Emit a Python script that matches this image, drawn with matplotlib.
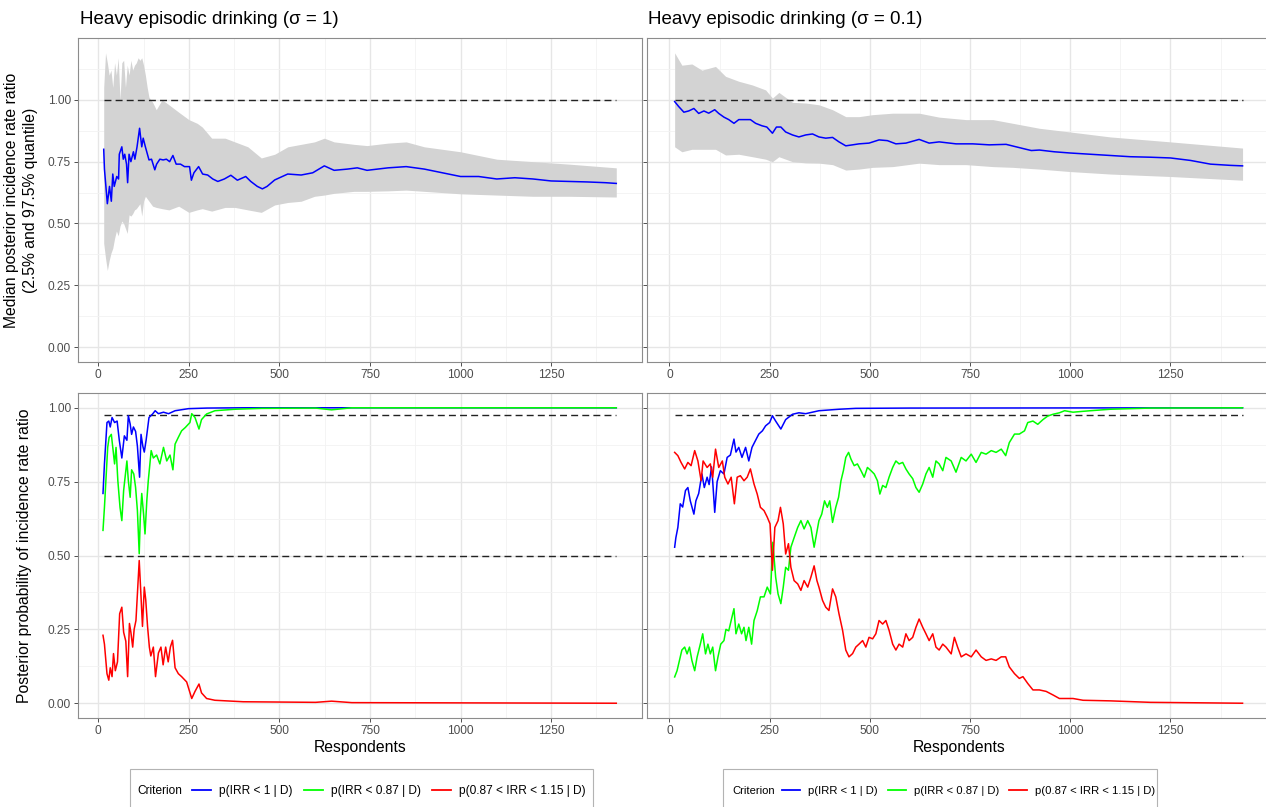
"""
Sequential Bayesian analysis of heavy episodic drinking, two prior widths.

Top row: median posterior incidence rate ratio with 2.5%-97.5% band.
Bottom row: posterior probability of the three decision criteria.
"""

import matplotlib.pyplot as plt
from matplotlib.lines import Line2D
from matplotlib.patches import Rectangle
from matplotlib.ticker import MultipleLocator

plt.rcParams["font.family"] = ["Liberation Sans", "DejaVu Sans"]

W, H = 1266, 807

TITLES = ["Heavy episodic drinking (\u03c3 = 1)", "Heavy episodic drinking (\u03c3 = 0.1)"]
X_TICKS = [0, 250, 500, 750, 1000, 1250]
Y_TICKS = [0.0, 0.25, 0.5, 0.75, 1.0]
CRITERIA = ["p(IRR < 1 | D)", "p(IRR < 0.87 | D)", "p(0.87 < IRR < 1.15 | D)"]
COLORS = ["#0000FF", "#00FF00", "#FF0000"]
REF_TOP = [1.0]
REF_BOTTOM = [0.975, 0.5]
N_FIRST, N_LAST = 15, 1430

# ---- sigma = 1, median IRR and band ----
s1_med_x = [15, 17, 25, 31, 36, 40, 44, 51, 56, 58, 65, 69, 73, 78, 81, 85, 90, 97, 101, 107,
            114, 120, 124, 130, 140, 147, 156, 161, 170, 179, 188, 197, 206, 215, 227, 238,
            252, 257, 264, 277, 288, 302, 316, 330, 348, 366, 384, 407, 421, 439, 453, 466,
            487, 523, 560, 592, 624, 651, 688, 715, 742, 800, 850, 900, 950, 1000, 1050,
            1100, 1150, 1200, 1250, 1300, 1350, 1400, 1430]
s1_med = [0.80, 0.72, 0.58, 0.65, 0.59, 0.70, 0.65, 0.69, 0.68, 0.78, 0.81, 0.76, 0.78, 0.74,
          0.665, 0.78, 0.75, 0.79, 0.76, 0.81, 0.885, 0.81, 0.845, 0.81, 0.757, 0.76, 0.717,
          0.74, 0.76, 0.757, 0.76, 0.75, 0.775, 0.74, 0.74, 0.73, 0.73, 0.675, 0.705, 0.73,
          0.70, 0.696, 0.68, 0.67, 0.68, 0.695, 0.675, 0.69, 0.67, 0.65, 0.64, 0.65, 0.676,
          0.70, 0.696, 0.705, 0.733, 0.715, 0.72, 0.725, 0.715, 0.725, 0.73, 0.72, 0.705,
          0.69, 0.69, 0.68, 0.685, 0.68, 0.672, 0.67, 0.668, 0.665, 0.662]
s1_band_x = [15, 20, 25, 30, 35, 40, 45, 50, 55, 60, 65, 70, 75, 80, 85, 90, 95, 100, 105, 110,
             115, 120, 125, 130, 135, 140, 150, 160, 176, 195, 222, 250, 273, 287, 313, 350,
             377, 413, 450, 487, 523, 560, 597, 624, 651, 706, 742, 800, 850, 900, 1000, 1100,
             1200, 1300, 1430]
s1_hi = [1.05, 1.19, 1.15, 1.10, 1.12, 1.05, 1.15, 1.10, 1.17, 1.00, 1.15, 1.16, 1.05, 1.14,
         1.10, 1.16, 1.12, 1.14, 1.15, 1.17, 1.16, 1.17, 1.14, 1.10, 1.05, 1.01, 0.99, 0.96,
         1.00, 0.98, 0.95, 0.92, 0.905, 0.89, 0.845, 0.845, 0.83, 0.81, 0.765, 0.78, 0.81,
         0.82, 0.83, 0.845, 0.83, 0.82, 0.815, 0.825, 0.83, 0.81, 0.79, 0.76, 0.75, 0.74, 0.725]
s1_lo = [0.42, 0.36, 0.31, 0.35, 0.38, 0.40, 0.44, 0.47, 0.45, 0.49, 0.51, 0.50, 0.48, 0.46,
         0.535, 0.53, 0.54, 0.555, 0.56, 0.57, 0.58, 0.53, 0.59, 0.61, 0.60, 0.59, 0.57, 0.565,
         0.56, 0.555, 0.57, 0.545, 0.555, 0.56, 0.55, 0.565, 0.565, 0.555, 0.545, 0.575, 0.585,
         0.59, 0.61, 0.615, 0.622, 0.63, 0.63, 0.632, 0.635, 0.63, 0.62, 0.615, 0.61, 0.61, 0.607]

# ---- sigma = 0.1, median IRR and band ----
s01_med_x = [13, 23, 36, 48, 61, 73, 86, 98, 113, 123, 136, 148, 161, 173, 190, 202, 215, 231,
             243, 257, 267, 278, 290, 307, 323, 340, 357, 373, 390, 407, 423, 440, 457, 473,
             498, 523, 544, 565, 590, 623, 648, 673, 715, 757, 798, 840, 865, 890, 903, 923,
             960, 1000, 1050, 1100, 1150, 1200, 1250, 1300, 1350, 1400, 1430]
s01_med = [0.993, 0.973, 0.95, 0.955, 0.965, 0.945, 0.955, 0.946, 0.96, 0.945, 0.93, 0.92,
           0.905, 0.92, 0.92, 0.92, 0.905, 0.895, 0.89, 0.865, 0.89, 0.89, 0.87, 0.858, 0.85,
           0.858, 0.862, 0.85, 0.845, 0.848, 0.83, 0.814, 0.818, 0.822, 0.825, 0.838, 0.835,
           0.822, 0.825, 0.84, 0.825, 0.83, 0.822, 0.822, 0.818, 0.82, 0.81, 0.80, 0.795,
           0.797, 0.79, 0.785, 0.78, 0.775, 0.77, 0.768, 0.765, 0.755, 0.74, 0.735, 0.733]
s01_band_x = [13, 31, 56, 81, 115, 140, 173, 207, 240, 257, 273, 307, 340, 373, 407, 440, 473,
              507, 557, 623, 673, 740, 807, 857, 923, 1000, 1100, 1250, 1430]
s01_hi = [1.19, 1.14, 1.145, 1.12, 1.135, 1.095, 1.075, 1.06, 1.04, 1.007, 1.03, 0.99, 0.987,
          0.98, 0.96, 0.932, 0.932, 0.94, 0.946, 0.946, 0.93, 0.92, 0.92, 0.905, 0.885, 0.87,
          0.85, 0.83, 0.805]
s01_lo = [0.81, 0.79, 0.80, 0.80, 0.80, 0.777, 0.78, 0.77, 0.76, 0.75, 0.77, 0.75, 0.745, 0.744,
          0.738, 0.716, 0.72, 0.727, 0.73, 0.744, 0.738, 0.738, 0.73, 0.727, 0.72, 0.71, 0.70,
          0.69, 0.675]

# ---- sigma = 1, posterior probabilities ----
s1_blue_x = [13, 17, 21, 24, 29, 33, 38, 45, 52, 58, 65, 72, 79, 83, 88, 92, 97, 103, 108, 114,
             118, 123, 127, 132, 140, 150, 157, 166, 180, 194, 212, 249, 300, 400, 1430]
s1_blue = [0.71, 0.81, 0.89, 0.95, 0.955, 0.935, 0.967, 0.95, 0.955, 0.89, 0.83, 0.905, 0.89,
           0.973, 0.945, 0.91, 0.935, 0.92, 0.87, 0.765, 0.91, 0.87, 0.85, 0.89, 0.967, 0.979,
           0.99, 0.98, 0.985, 0.98, 0.99, 0.997, 0.999, 1.0, 1.0]
s1_green_x = [13, 17, 22, 26, 30, 36, 40, 45, 49, 54, 60, 65, 70, 74, 79, 83, 88, 92, 98, 103,
              108, 113, 116, 120, 125, 129, 134, 138, 146, 152, 161, 170, 180, 189, 198, 206,
              212, 221, 230, 240, 253, 258, 267, 278, 285, 299, 322, 377, 450, 600, 644, 700,
              1430]
s1_green = [0.585, 0.663, 0.776, 0.866, 0.90, 0.91, 0.866, 0.81, 0.866, 0.753, 0.663, 0.618,
            0.72, 0.765, 0.82, 0.753, 0.697, 0.79, 0.776, 0.73, 0.652, 0.506, 0.63, 0.71, 0.64,
            0.573, 0.686, 0.753, 0.855, 0.83, 0.84, 0.81, 0.866, 0.82, 0.84, 0.79, 0.877, 0.90,
            0.922, 0.933, 0.95, 0.98, 0.967, 0.928, 0.96, 0.979, 0.99, 0.995, 0.998, 0.999,
            0.993, 1.0, 1.0]
s1_red_x = [13, 17, 24, 29, 33, 38, 42, 47, 53, 59, 65, 70, 76, 81, 86, 90, 95, 99, 104, 108,
            113, 118, 122, 127, 131, 136, 141, 145, 152, 158, 166, 173, 179, 186, 193, 199, 205,
            212, 221, 230, 244, 258, 267, 278, 285, 299, 322, 400, 600, 644, 700, 1430]
s1_red = [0.23, 0.20, 0.10, 0.078, 0.12, 0.09, 0.168, 0.11, 0.14, 0.303, 0.325, 0.24, 0.21,
          0.09, 0.27, 0.24, 0.19, 0.25, 0.28, 0.37, 0.483, 0.36, 0.26, 0.393, 0.35, 0.26, 0.19,
          0.16, 0.19, 0.09, 0.17, 0.19, 0.13, 0.19, 0.14, 0.19, 0.213, 0.12, 0.10, 0.09, 0.072,
          0.016, 0.04, 0.065, 0.035, 0.016, 0.01, 0.005, 0.003, 0.007, 0.002, 0.0]

# ---- sigma = 0.1, posterior probabilities ----
s01_blue_x = [13, 16, 21, 27, 33, 40, 46, 52, 61, 66, 73, 81, 87, 94, 99, 105, 108, 113, 119,
              127, 136, 144, 152, 161, 166, 173, 181, 190, 198, 206, 215, 223, 232, 240, 250,
              257, 265, 278, 290, 307, 323, 340, 373, 423, 465, 600, 1430]
s01_blue = [0.528, 0.56, 0.595, 0.675, 0.664, 0.72, 0.73, 0.685, 0.64, 0.685, 0.71, 0.776,
            0.73, 0.765, 0.74, 0.80, 0.75, 0.646, 0.75, 0.787, 0.776, 0.832, 0.84, 0.894, 0.85,
            0.866, 0.832, 0.866, 0.82, 0.866, 0.89, 0.911, 0.922, 0.939, 0.95, 0.973, 0.955,
            0.928, 0.96, 0.978, 0.983, 0.98, 0.99, 0.995, 0.998, 0.999, 1.0]
s01_green_x = [13, 19, 25, 31, 38, 44, 50, 56, 63, 69, 77, 83, 90, 96, 102, 108, 115, 121, 128,
               136, 141, 148, 154, 161, 166, 173, 180, 186, 191, 198, 205, 211, 219, 227, 236,
               244, 252, 258, 265, 271, 278, 284, 290, 297, 303, 311, 320, 328, 336, 345, 353,
               361, 367, 373, 380, 387, 394, 400, 407, 415, 422, 428, 434, 440, 447, 453, 461,
               469, 478, 486, 494, 503, 511, 519, 525, 532, 540, 548, 557, 565, 573, 582, 590,
               598, 607, 615, 623, 632, 640, 648, 657, 665, 673, 682, 690, 703, 715, 728, 740,
               753, 765, 778, 790, 803, 815, 828, 839, 848, 861, 873, 886, 894, 907, 919, 932,
               944, 957, 973, 986, 1007, 1032, 1050, 1100, 1200, 1430]
s01_green = [0.089, 0.11, 0.145, 0.18, 0.19, 0.167, 0.19, 0.145, 0.11, 0.156, 0.20, 0.235,
             0.167, 0.20, 0.167, 0.19, 0.11, 0.156, 0.20, 0.212, 0.25, 0.245, 0.28, 0.32, 0.235,
             0.268, 0.235, 0.257, 0.212, 0.257, 0.20, 0.28, 0.313, 0.36, 0.36, 0.393, 0.37,
             0.545, 0.427, 0.37, 0.337, 0.393, 0.46, 0.45, 0.528, 0.56, 0.595, 0.618, 0.59,
             0.618, 0.595, 0.528, 0.573, 0.618, 0.64, 0.685, 0.663, 0.685, 0.612, 0.663, 0.697,
             0.753, 0.787, 0.832, 0.849, 0.826, 0.804, 0.81, 0.787, 0.765, 0.798, 0.787, 0.776,
             0.753, 0.708, 0.737, 0.73, 0.765, 0.798, 0.82, 0.81, 0.815, 0.793, 0.776, 0.76,
             0.73, 0.714, 0.742, 0.776, 0.798, 0.765, 0.82, 0.81, 0.787, 0.832, 0.82, 0.782,
             0.832, 0.82, 0.843, 0.815, 0.849, 0.843, 0.855, 0.849, 0.86, 0.838, 0.882, 0.911,
             0.911, 0.922, 0.95, 0.955, 0.944, 0.96, 0.972, 0.978, 0.983, 0.99, 0.985, 0.988,
             0.99, 0.995, 0.999, 1.0]
s01_red_x = [13, 21, 29, 38, 46, 54, 63, 71, 79, 84, 94, 102, 108, 115, 123, 132, 138, 146, 154,
             162, 169, 177, 186, 194, 202, 211, 219, 227, 236, 244, 251, 257, 263, 271, 277,
             284, 290, 297, 303, 311, 320, 328, 336, 345, 353, 361, 368, 373, 382, 390, 398,
             407, 415, 423, 432, 440, 448, 457, 465, 473, 482, 490, 498, 507, 515, 523, 532,
             540, 548, 557, 565, 573, 582, 590, 598, 607, 615, 623, 632, 640, 648, 657, 665,
             673, 682, 690, 703, 711, 719, 728, 740, 753, 765, 778, 790, 803, 815, 828, 839,
             848, 861, 873, 882, 894, 907, 923, 940, 957, 973, 990, 1007, 1032, 1100, 1200, 1430]
s01_red = [0.849, 0.838, 0.815, 0.793, 0.815, 0.804, 0.855, 0.82, 0.753, 0.82, 0.798, 0.81,
           0.765, 0.86, 0.798, 0.82, 0.765, 0.742, 0.765, 0.675, 0.765, 0.77, 0.753, 0.765,
           0.793, 0.742, 0.708, 0.663, 0.652, 0.63, 0.607, 0.45, 0.595, 0.618, 0.663, 0.607,
           0.505, 0.54, 0.46, 0.415, 0.404, 0.382, 0.415, 0.393, 0.427, 0.465, 0.415, 0.393,
           0.348, 0.325, 0.314, 0.387, 0.36, 0.303, 0.247, 0.18, 0.157, 0.168, 0.19, 0.20,
           0.212, 0.19, 0.223, 0.218, 0.235, 0.28, 0.268, 0.28, 0.247, 0.20, 0.18, 0.20, 0.19,
           0.235, 0.212, 0.223, 0.257, 0.285, 0.257, 0.235, 0.212, 0.235, 0.19, 0.18, 0.20,
           0.19, 0.167, 0.223, 0.19, 0.157, 0.167, 0.157, 0.18, 0.157, 0.145, 0.15, 0.145,
           0.157, 0.157, 0.123, 0.10, 0.084, 0.09, 0.067, 0.045, 0.045, 0.04, 0.028, 0.016,
           0.016, 0.016, 0.01, 0.008, 0.003, 0.0]


def rect(left, right, top, bottom):
    return [left / W, 1 - bottom / H, (right - left) / W, (bottom - top) / H]


def style_axis(ax, ylim, show_ylabels):
    ax.set_xlim(-56, 1501)
    ax.set_ylim(*ylim)
    ax.set_xticks(X_TICKS)
    ax.set_yticks(Y_TICKS)
    ax.xaxis.set_minor_locator(MultipleLocator(125))
    ax.yaxis.set_minor_locator(MultipleLocator(0.125))
    ax.grid(True, which="major", color="#e6e6e6", lw=1.0, zorder=0)
    ax.grid(True, which="minor", color="#f2f2f2", lw=0.6, zorder=0)
    ax.set_axisbelow(True)
    ax.tick_params(which="major", length=3, width=0.6, color="#333333",
                   labelsize=8.6, labelcolor="#4d4d4d", pad=2)
    ax.tick_params(which="minor", length=0)
    ax.set_yticklabels(["0.00", "0.25", "0.50", "0.75", "1.00"] if show_ylabels else [])
    for sp in ax.spines.values():
        sp.set_color("#8c8c8c")
        sp.set_linewidth(0.8)


def ref_lines(ax, levels):
    for lv in levels:
        ax.plot([N_FIRST, N_LAST], [lv, lv], color="#222222", lw=1.0,
                linestyle=(0, (5, 3)), zorder=3)


fig = plt.figure(figsize=(W / 100, H / 100), dpi=100)

ax_tl = fig.add_axes(rect(78, 642, 38, 362))
ax_tr = fig.add_axes(rect(647, 1271, 38, 362))
ax_bl = fig.add_axes(rect(78, 642, 393, 718))
ax_br = fig.add_axes(rect(647, 1271, 393, 718))

top_sets = [
    (ax_tl, s1_band_x, s1_lo, s1_hi, s1_med_x, s1_med),
    (ax_tr, s01_band_x, s01_lo, s01_hi, s01_med_x, s01_med),
]
for ax, bx, lo, hi, mx, med in top_sets:
    ax.fill_between(bx, lo, hi, color="#d3d3d3", lw=0, zorder=1)
    ref_lines(ax, REF_TOP)
    ax.plot(mx, med, color=COLORS[0], lw=1.1, zorder=4)

bottom_sets = [
    (ax_bl, [(s1_blue_x, s1_blue), (s1_green_x, s1_green), (s1_red_x, s1_red)]),
    (ax_br, [(s01_blue_x, s01_blue), (s01_green_x, s01_green), (s01_red_x, s01_red)]),
]
for ax, series in bottom_sets:
    ref_lines(ax, REF_BOTTOM)
    for (xs, ys), col in zip(series, COLORS):
        ax.plot(xs, ys, color=col, lw=1.1, zorder=4)

style_axis(ax_tl, (-0.06, 1.25), True)
style_axis(ax_tr, (-0.06, 1.25), False)
style_axis(ax_bl, (-0.05, 1.05), True)
style_axis(ax_br, (-0.05, 1.05), False)

ax_tl.set_ylabel("Median posterior incidence rate ratio\n(2.5% and 97.5% quantile)",
                 fontsize=11.3, linespacing=1.3)
ax_tl.yaxis.set_label_coords((38 - 78) / 564, 0.5)
ax_bl.set_ylabel("Posterior probability of incidence rate ratio", fontsize=11.3)
ax_bl.yaxis.set_label_coords((32 - 78) / 564, 0.5)
for ax in (ax_bl, ax_br):
    ax.set_xlabel("Respondents", fontsize=11.3, labelpad=2)

fig.text(80 / W, 1 - 24 / H, TITLES[0], fontsize=13.5, va="baseline")
fig.text(648 / W, 1 - 24 / H, TITLES[1], fontsize=13.5, va="baseline")

# legends below each column (the right-hand one is drawn a touch smaller)
handles = [Line2D([], [], color=c, lw=1.3) for c in COLORS]
legend_specs = [(130, 593, 137, 192, 8.6), (723, 1157, 732, 782, 8.1)]
for box_l, box_r, crit_x, key_x, fs in legend_specs:
    fig.patches.append(Rectangle((box_l / W, -0.02), (box_r - box_l) / W, (807 - 769) / H + 0.02,
                                 transform=fig.transFigure, fill=False,
                                 edgecolor="#b3b3b3", lw=0.8))
    fig.text(crit_x / W, 1 - 791 / H, "Criterion", fontsize=fs, va="center")
    fig.legend(handles, CRITERIA, loc="center left", bbox_to_anchor=(key_x / W, 1 - 791 / H),
               ncol=3, frameon=False, fontsize=fs, handlelength=1.6,
               handletextpad=0.7, columnspacing=0.9, borderpad=0, borderaxespad=0)

fig.savefig("out.png", dpi=100)
